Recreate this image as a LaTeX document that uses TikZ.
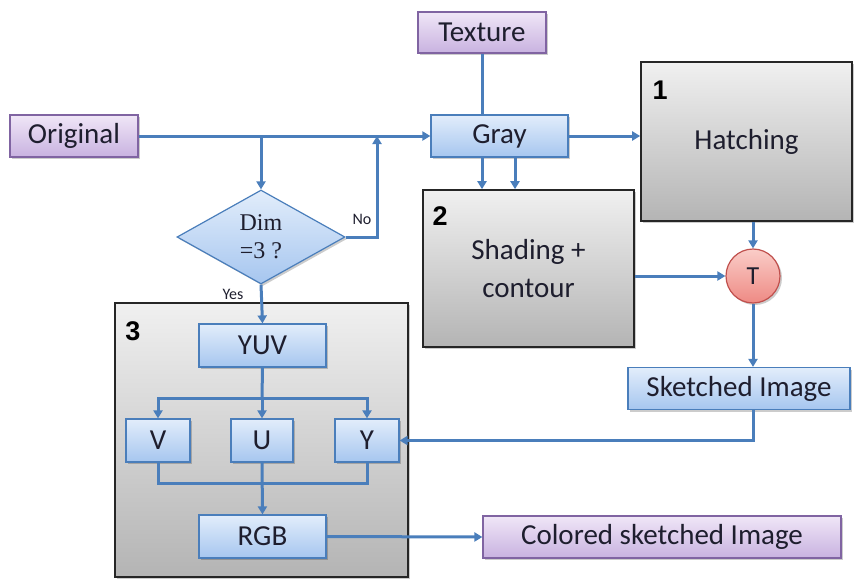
\documentclass[tikz,border=0pt]{standalone}
\usepackage{fontspec}
\setmainfont{Carlito}
\newfontfamily\numfont{Liberation Sans}
\newfontfamily\serifd{Liberation Serif}
\usetikzlibrary{shapes.geometric,arrows.meta,shadows,calc}
\definecolor{lineblue}{HTML}{4A7EBB}
\definecolor{txt}{HTML}{1E1E2E}
\definecolor{blutop}{HTML}{E2EDFB}
\definecolor{blubot}{HTML}{A6C6EF}
\definecolor{purtop}{HTML}{F0E6F7}
\definecolor{purbot}{HTML}{C8B2E0}
\definecolor{purline}{HTML}{8064A2}
\definecolor{graytop}{HTML}{F0F0F0}
\definecolor{graybot}{HTML}{B4B4B4}
\definecolor{grayline}{HTML}{262626}
\definecolor{pinktop}{HTML}{FACDC8}
\definecolor{pinkbot}{HTML}{EE8A84}
\definecolor{pinkline}{HTML}{C0504D}
\tikzset{
  conn/.style={draw=lineblue, line width=3pt},
  arr/.style={conn, -{Triangle[length=8pt,width=9pt]}},
  shad/.style={drop shadow={shadow xshift=2pt, shadow yshift=-2pt, opacity=0.2, fill=black}},
  blubox/.style={draw=lineblue, line width=1.2pt, top color=blutop, bottom color=blubot,
    inner sep=0pt, text=txt, font=\fontsize{29}{32}\selectfont, shad},
  purbox/.style={draw=purline, line width=1.2pt, top color=purtop, bottom color=purbot,
    inner sep=0pt, text=txt, font=\fontsize{29}{32}\selectfont, shad},
  graybox/.style={draw=grayline, line width=1.6pt, top color=graytop, bottom color=graybot,
    inner sep=0pt, text=txt, font=\fontsize{29}{38}\selectfont, align=center, shad},
  numlab/.style={font=\numfont\bfseries\fontsize{27}{30}\selectfont, text=black, inner sep=0pt},
  small/.style={font=\fontsize{16}{18}\selectfont, text=txt, inner sep=0pt},
}
\begin{document}
\begin{tikzpicture}[x=1pt,y=-1pt]
\useasboundingbox (0,0) rectangle (866,578);
% big boxes
\node[graybox, minimum width=211, minimum height=159] (hatch) at (746.5,141.5) {Hatching};
\node[graybox, minimum width=211, minimum height=157] (shade) at (528.5,268.5) {Shading +\\contour};
\node[graybox, minimum width=293, minimum height=274] (box3) at (261.5,440) {};
\node[numlab] (n1) at (660,90) {1};
\node[numlab] (n2) at (440,216) {2};
\node[numlab] (n3) at (133,331) {3};
% small boxes
\node[purbox, minimum width=128, minimum height=42] (orig) at (74,136) {Original};
\node[purbox, minimum width=128, minimum height=41] (tex) at (482,32.5) {Texture};
\node[blubox, minimum width=137, minimum height=42] (gray) at (499.5,136) {Gray};
\node[circle, draw=pinkline, line width=1.2pt, top color=pinktop, bottom color=pinkbot,
  minimum size=54, inner sep=0pt, text=txt, font=\fontsize{26}{28}\selectfont, shad] (T) at (753,276) {T};
\node[blubox, minimum width=222, minimum height=42] (sk) at (739,388.5) {Sketched Image};
\node[purbox, minimum width=358, minimum height=42] (col) at (662,537) {Colored sketched Image};
\node[diamond, draw=lineblue, line width=1.2pt, top color=blutop, bottom color=blubot,
  minimum width=168, minimum height=94, inner sep=0pt, align=center, text=txt,
  font=\serifd\fontsize{24}{28}\selectfont, shad] (dim) at (261,237) {Dim\\=3 ?};
\node[blubox, minimum width=127, minimum height=43] (yuv) at (262.5,345.5) {YUV};
\node[blubox, minimum width=64, minimum height=43] (V) at (158,440.5) {V};
\node[blubox, minimum width=62, minimum height=43] (U) at (262,440.5) {U};
\node[blubox, minimum width=64, minimum height=43] (Y) at (367,440.5) {Y};
\node[blubox, minimum width=127, minimum height=43] (rgb) at (262.5,536.5) {RGB};
\node[small] (no) at (362,219) {No};
\node[small] (yes) at (233,294) {Yes};
% coordinates
\coordinate (br) at (261,136);
\coordinate (nojoin) at (377,136);
\coordinate (split) at (262,398);
\coordinate (join) at (262,483);
% connectors
\draw[arr] (orig.east) -- (gray.west);
\draw[arr] (br) -- (dim.north);
\draw[arr] (dim.east) -- (dim.east -| nojoin) -- (nojoin);
\draw[conn] (tex.south) -- (tex.south |- gray.north);
\draw[arr] (gray.east) -- (gray.east -| hatch.west);
\draw[arr] (tex.south |- gray.south) -- (tex.south |- shade.north);
\draw[arr] ($(tex.south |- gray.south)+(33,0)$) -- ($(tex.south |- shade.north)+(33,0)$);
\draw[arr] (hatch.south -| T.north) -- (T.north);
\draw[arr] (shade.east |- T.west) -- (T.west);
\draw[arr] (T.south) -- (T.south |- sk.north);
\draw[arr] (sk.south -| T.south) -- (T.south |- Y.east) -- (Y.east);
\draw[arr] (dim.south) -- (yuv.north);
\draw[conn] (yuv.south) -- (split);
\draw[arr] (split) -- (U.north);
\draw[arr] (split -| U.north) -- (split -| V.north) -- (V.north);
\draw[arr] (split -| U.north) -- (split -| Y.north) -- (Y.north);
\draw[conn] (V.south) -- (join -| V.south) -- (join -| Y.south) -- (Y.south);
\draw[arr] (U.south) -- (rgb.north);
\draw[arr] (rgb.east) -- (col.west);
\end{tikzpicture}
\end{document}
